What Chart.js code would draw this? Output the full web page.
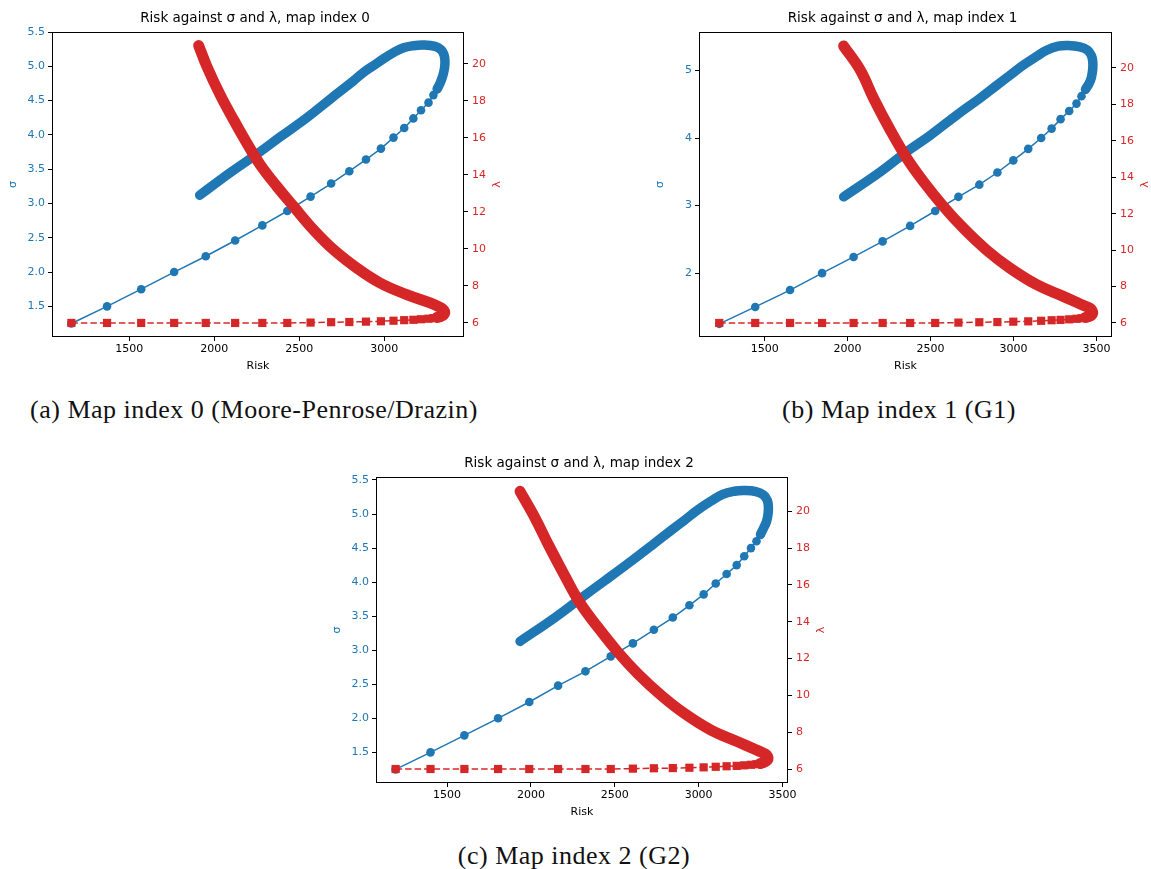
<!DOCTYPE html>
<html>
<head>
<meta charset="utf-8">
<script src="https://cdn.jsdelivr.net/npm/chart.js@4.4.1/dist/chart.umd.min.js"></script>
<style>
  body { margin: 0; background: #fff; width: 1151px; height: 869px; overflow: hidden; position: relative; }
  canvas { position: absolute; }
  .cap {
    position: absolute;
    font-family: "Liberation Serif", serif;
    font-size: 26px;
    letter-spacing: 0.5px;
    line-height: 26px;
    white-space: nowrap;
    transform: translateX(-50%);
    color: #111;
  }
</style>
</head>
<body>
<canvas id="c0" width="510" height="378" style="left:0px;top:0px"></canvas>
<canvas id="c1" width="511" height="378" style="left:647px;top:0px"></canvas>
<canvas id="c2" width="510" height="379" style="left:324px;top:445px"></canvas>
<div class="cap" style="left:254px;top:397px">(a) Map index 0 (Moore-Penrose/Drazin)</div>
<div class="cap" style="left:899px;top:397px">(b) Map index 1 (G1)</div>
<div class="cap" style="left:574px;top:843px">(c) Map index 2 (G2)</div>
<script>
// ---- map index 0 ----
// outward branch (sparse markers)
const risk0   = [1159, 1369, 1570, 1764, 1950, 2123, 2283, 2430, 2567, 2688, 2795, 2893, 2981, 3055, 3118, 3172, 3217, 3261, 3290, 3312];
const sigma0  = [1.25, 1.5, 1.75, 2.0, 2.23, 2.46, 2.68, 2.89, 3.10, 3.29, 3.47, 3.64, 3.80, 3.96, 4.10, 4.24, 4.36, 4.47, 4.58, 4.67];
const lambda0 = [6.0, 6.0, 6.0, 6.0, 6.0, 6.0, 6.0, 6.0, 6.02, 6.04, 6.05, 6.07, 6.09, 6.12, 6.15, 6.17, 6.20, 6.23, 6.26, 6.30];
// return branch (dense markers)
const riskBackS0   = [3312, 3330, 3345, 3355, 3358, 3352, 3335, 3300, 3231, 3173, 3114, 3055, 2996, 2937, 2878, 2820, 2682, 2545, 2388, 2251, 2094, 1914];
const sigmaBack0   = [4.67, 4.76, 4.86, 4.97, 5.07, 5.17, 5.24, 5.29, 5.31, 5.30, 5.27, 5.20, 5.11, 5.01, 4.91, 4.79, 4.52, 4.25, 3.97, 3.72, 3.45, 3.12];
const riskBackL0   = [3312, 3335, 3350, 3357, 3352, 3335, 3271, 3133, 2976, 2839, 2702, 2584, 2467, 2369, 2271, 2192, 2114, 2035, 1957, 1908];
const lambdaBack0  = [6.30, 6.36, 6.44, 6.56, 6.68, 6.81, 7.08, 7.53, 8.16, 8.97, 9.96, 11.04, 12.30, 13.38, 14.55, 15.72, 16.98, 18.33, 19.86, 21.0];

// ---- map index 1 ----
const risk1   = [1226, 1443, 1653, 1846, 2036, 2211, 2377, 2528, 2668, 2794, 2903, 2999, 3089, 3167, 3230, 3284, 3336, 3380, 3410, 3434];
const sigma1  = [1.25, 1.5, 1.75, 2.0, 2.24, 2.47, 2.70, 2.92, 3.13, 3.31, 3.49, 3.67, 3.84, 4.00, 4.14, 4.28, 4.40, 4.51, 4.62, 4.72];
const lambda1 = [6.0, 6.0, 6.0, 6.0, 6.0, 6.0, 6.0, 6.0, 6.02, 6.04, 6.05, 6.07, 6.09, 6.12, 6.15, 6.17, 6.20, 6.23, 6.26, 6.30];
const riskBackS1   = [3434, 3456, 3470, 3478, 3478, 3470, 3447, 3400, 3330, 3270, 3200, 3140, 3059, 2979, 2899, 2798, 2658, 2498, 2357, 2197, 1976];
const sigmaBack1   = [4.72, 4.81, 4.90, 5.03, 5.13, 5.22, 5.30, 5.35, 5.37, 5.36, 5.30, 5.21, 5.08, 4.93, 4.78, 4.59, 4.34, 4.04, 3.80, 3.50, 3.13];
const riskBackL1   = [3434, 3456, 3470, 3478, 3474, 3462, 3412, 3300, 3140, 2979, 2838, 2698, 2578, 2458, 2357, 2257, 2157, 2077, 1976];
const lambdaBack1  = [6.30, 6.36, 6.43, 6.55, 6.68, 6.81, 7.0, 7.46, 8.10, 9.01, 10.0, 11.2, 12.39, 13.75, 15.04, 16.59, 18.32, 19.87, 21.2];

// ---- map index 2 ----
const risk2   = [1193, 1401, 1603, 1804, 1990, 2162, 2325, 2476, 2608, 2733, 2846, 2945, 3030, 3102, 3167, 3227, 3272, 3312, 3345, 3369];
const sigma2  = [1.25, 1.5, 1.75, 2.0, 2.24, 2.48, 2.69, 2.91, 3.10, 3.30, 3.48, 3.66, 3.82, 3.98, 4.12, 4.25, 4.38, 4.50, 4.60, 4.70];
const lambda2 = [6.0, 6.0, 6.0, 6.0, 6.0, 6.0, 6.0, 6.0, 6.02, 6.04, 6.05, 6.07, 6.09, 6.12, 6.15, 6.17, 6.20, 6.23, 6.26, 6.30];
const riskBackS2   = [3369, 3387, 3405, 3414, 3416, 3410, 3387, 3342, 3272, 3213, 3143, 3074, 2995, 2916, 2836, 2737, 2599, 2440, 2301, 2143, 1935];
const sigmaBack2   = [4.70, 4.79, 4.89, 5.00, 5.10, 5.20, 5.28, 5.33, 5.345, 5.335, 5.29, 5.19, 5.06, 4.91, 4.76, 4.57, 4.31, 4.02, 3.77, 3.48, 3.13];
const riskBackL2   = [3369, 3387, 3405, 3414, 3412, 3400, 3345, 3233, 3074, 2916, 2777, 2638, 2519, 2400, 2291, 2202, 2103, 2024, 1935];
const lambdaBack2  = [6.30, 6.36, 6.44, 6.54, 6.67, 6.80, 7.03, 7.48, 8.11, 9.01, 10.0, 11.17, 12.34, 13.69, 15.04, 16.49, 18.2, 19.64, 21.08];

// tick labels
const riskTicksA  = [1500, 2000, 2500, 3000];
const riskTicksB  = [1500, 2000, 2500, 3000, 3500];
const sigmaTicksA = [1.5, 2.0, 2.5, 3.0, 3.5, 4.0, 4.5, 5.0, 5.5];
const sigmaTicksB = [2, 3, 4, 5];
const lambdaTicks = [6, 8, 10, 12, 14, 16, 18, 20];

const BLUE = '#1f77b4';
const RED = '#d62728';
const TICK_FONT = { family: 'DejaVu Sans', size: 11 };

const pts = (xs, ys) => xs.map((x, i) => ({ x: x, y: ys[i] }));

// axes frame on all four sides, plus the right-hand label written bottom-to-top
const framePlugin = {
  id: 'frame',
  afterDraw(chart) {
    const { ctx, chartArea: a } = chart;
    ctx.save();
    ctx.strokeStyle = '#000';
    ctx.lineWidth = 1;
    const l = Math.round(a.left) + 0.5, t = Math.round(a.top) + 0.5;
    const r = Math.round(a.right) - 0.5, b = Math.round(a.bottom) - 0.5;
    ctx.strokeRect(l, t, r - l, b - t);
    ctx.translate(a.right + 33, (a.top + a.bottom) / 2);
    ctx.rotate(-Math.PI / 2);
    ctx.fillStyle = RED;
    ctx.font = '11px "DejaVu Sans"';
    ctx.textAlign = 'center';
    ctx.textBaseline = 'middle';
    ctx.fillText('λ', 0, 0);
    ctx.restore();
  }
};

function tickGrid() {
  return { display: true, drawOnChartArea: false, drawTicks: true, tickLength: 4, color: '#000', lineWidth: 1 };
}

function makeChart(id, title, s) {
  new Chart(document.getElementById(id), {
    type: 'line',
    data: {
      datasets: [
        { // lambda return branch
          data: pts(s.riskBackL, s.lambdaBack), yAxisID: 'y2', order: 0,
          borderColor: RED, borderWidth: 11, borderCapStyle: 'round', borderJoinStyle: 'round',
          pointRadius: 0, tension: 0.4, fill: false
        },
        { // lambda outward branch
          data: pts(s.risk, s.lambda), yAxisID: 'y2', order: 1,
          borderColor: RED, borderWidth: 1.5, borderDash: [6.5, 3],
          pointStyle: 'rect', pointRadius: 5.8, pointBorderWidth: 0,
          pointBackgroundColor: RED, tension: 0, fill: false
        },
        { // sigma return branch
          data: pts(s.riskBackS, s.sigmaBack), yAxisID: 'y', order: 2,
          borderColor: BLUE, borderWidth: 9.5, borderCapStyle: 'round', borderJoinStyle: 'round',
          pointRadius: 0, tension: 0.4, fill: false
        },
        { // sigma outward branch
          data: pts(s.risk, s.sigma), yAxisID: 'y', order: 3,
          borderColor: BLUE, borderWidth: 1.5,
          pointStyle: 'circle', pointRadius: 4.3, pointBorderWidth: 0,
          pointBackgroundColor: BLUE, tension: 0, fill: false
        }
      ]
    },
    options: {
      responsive: false,
      animation: false,
      layout: { padding: 0 },
      plugins: {
        legend: { display: false },
        tooltip: { enabled: false },
        title: {
          display: true, text: title, color: '#000',
          font: { family: 'DejaVu Sans', size: 13.5, weight: 'normal' },
          padding: { top: 10.5, bottom: 5.3 }
        }
      },
      scales: {
        x: {
          type: 'linear', min: s.xMin, max: s.xMax,
          afterBuildTicks: sc => { sc.ticks = s.xTicks.map(v => ({ value: v })); },
          afterFit: sc => { sc.height = 41; },
          ticks: { color: '#000', font: TICK_FONT, padding: 2, maxRotation: 0, callback: v => String(v) },
          grid: tickGrid(), border: { display: false },
          title: { display: true, text: 'Risk', color: '#000', font: TICK_FONT, padding: { top: 0, bottom: 5 } }
        },
        y: {
          type: 'linear', position: 'left', min: s.yMin, max: s.yMax,
          afterBuildTicks: sc => { sc.ticks = s.yTicks.map(v => ({ value: v })); },
          afterFit: sc => { sc.width = 52; },
          ticks: { color: BLUE, font: TICK_FONT, padding: 3, callback: v => s.yFmt(v) },
          grid: tickGrid(), border: { display: false },
          title: { display: true, text: 'σ', color: BLUE, font: TICK_FONT, padding: { top: 7, bottom: 0 } }
        },
        y2: {
          type: 'linear', position: 'right', min: s.y2Min, max: s.y2Max,
          afterBuildTicks: sc => { sc.ticks = lambdaTicks.map(v => ({ value: v })); },
          afterFit: sc => { sc.width = 46; },
          ticks: { color: RED, font: TICK_FONT, padding: 4, callback: v => String(v) },
          grid: tickGrid(), border: { display: false },
          title: { display: false }
        }
      }
    },
    plugins: [framePlugin]
  });
}

makeChart('c0', 'Risk against σ and λ, map index 0', {
  risk: risk0, sigma: sigma0, lambda: lambda0,
  riskBackS: riskBackS0, sigmaBack: sigmaBack0, riskBackL: riskBackL0, lambdaBack: lambdaBack0,
  xMin: 1045, xMax: 3470, yMin: 1.053, yMax: 5.5, y2Min: 5.24, y2Max: 21.73,
  xTicks: riskTicksA, yTicks: sigmaTicksA, yFmt: v => v.toFixed(1)
});
makeChart('c1', 'Risk against σ and λ, map index 1', {
  risk: risk1, sigma: sigma1, lambda: lambda1,
  riskBackS: riskBackS1, sigmaBack: sigmaBack1, riskBackL: riskBackL1, lambdaBack: lambdaBack1,
  xMin: 1104, xMax: 3594, yMin: 1.055, yMax: 5.57, y2Min: 5.23, y2Max: 21.97,
  xTicks: riskTicksB, yTicks: sigmaTicksB, yFmt: v => String(v)
});
makeChart('c2', 'Risk against σ and λ, map index 2', {
  risk: risk2, sigma: sigma2, lambda: lambda2,
  riskBackS: riskBackS2, sigmaBack: sigmaBack2, riskBackL: riskBackL2, lambdaBack: lambdaBack2,
  xMin: 1076, xMax: 3533, yMin: 1.05, yMax: 5.544, y2Min: 5.24, y2Max: 21.86,
  xTicks: riskTicksB, yTicks: sigmaTicksA, yFmt: v => v.toFixed(1)
});
</script>
</body>
</html>
